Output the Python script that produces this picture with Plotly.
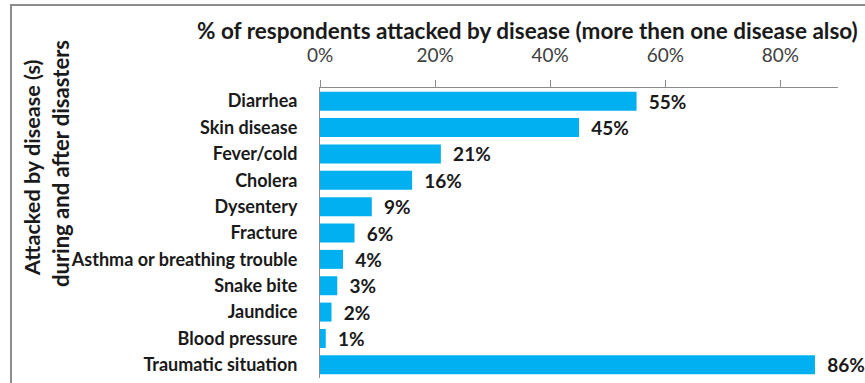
import plotly.graph_objects as go

categories = ["Diarrhea", "Skin disease", "Fever/cold", "Cholera", "Dysentery", "Fracture",
              "Asthma or breathing trouble", "Snake bite", "Jaundice", "Blood pressure",
              "Traumatic situation"]
values = [55, 45, 21, 16, 9, 6, 4, 3, 2, 1, 86]
tick_vals = [0, 20, 40, 60, 80]
tick_text = ["0%", "20%", "40%", "60%", "80%"]

FONT = "Lato"

fig = go.Figure(go.Bar(
    y=categories, x=values, orientation="h",
    marker=dict(color="#00B0F0", line=dict(width=0)),
    width=0.72,
    text=[f"\u00a0\u00a0{v}%" for v in values], textposition="outside",
    constraintext="none",
    textfont=dict(family=FONT, size=19, color="#1a1a1a", weight="bold"),
    cliponaxis=False,
))

fig.update_layout(
    width=865, height=383,
    margin=dict(l=320, r=27, t=88, b=5),
    paper_bgcolor="white", plot_bgcolor="white",
    showlegend=False,
    font=dict(family=FONT),
    xaxis=dict(side="top", range=[0, 90], tickvals=tick_vals, ticktext=tick_text,
               showgrid=False, zeroline=False, showline=True, linecolor="#8c8c8c",
               linewidth=1, ticks="outside", ticklen=7, tickcolor="#8c8c8c",
               ticklabelstandoff=10,
               tickfont=dict(family=FONT, size=19, color="#404040")),
    yaxis=dict(autorange="reversed", showgrid=False, zeroline=False, showline=True,
               linecolor="#8c8c8c", linewidth=1, ticks="", ticklabelstandoff=18,
               tickfont=dict(family=FONT, size=18, color="#1a1a1a", weight="bold")),
    shapes=[dict(type="rect", xref="paper", yref="paper",
                 x0=(11 - 320) / 518, x1=1.3,
                 y0=-0.1, y1=1 + 83 / 290,
                 line=dict(color="#8c8c8c", width=2), fillcolor="rgba(0,0,0,0)")],
    annotations=[
        dict(text="% of respondents attacked by disease (more then one disease also)",
             xref="paper", yref="paper", x=(527 - 320) / 518, y=1 + (88 - 30) / 290,
             xanchor="center", yanchor="middle", showarrow=False,
             font=dict(family=FONT, size=22.5, color="#1a1a1a", weight="bold")),
        dict(text="Attacked by disease (s)", textangle=-90,
             xref="paper", yref="paper", x=(32 - 320) / 518, y=1 - (168 - 88) / 290,
             xanchor="center", yanchor="middle", showarrow=False,
             font=dict(family=FONT, size=21.6, color="#1a1a1a", weight="bold")),
        dict(text="during and after disasters", textangle=-90,
             xref="paper", yref="paper", x=(60 - 320) / 518, y=1 - (164 - 88) / 290,
             xanchor="center", yanchor="middle", showarrow=False,
             font=dict(family=FONT, size=22, color="#1a1a1a", weight="bold")),
    ],
)

fig.write_html("out.html")
